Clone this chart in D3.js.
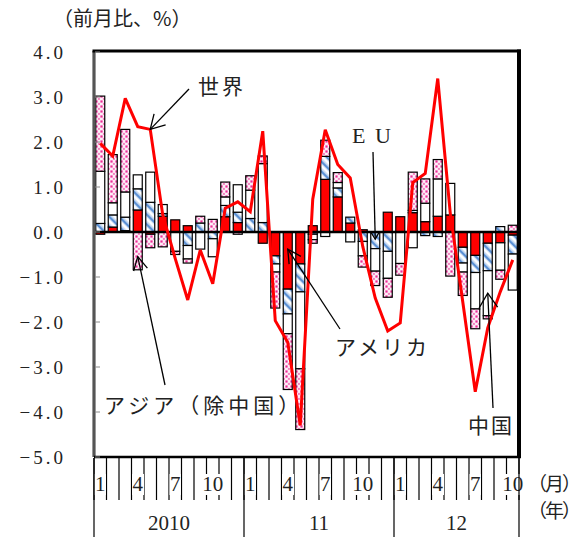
<!DOCTYPE html>
<html>
<head>
<meta charset="utf-8">
<script src="https://cdn.jsdelivr.net/npm/d3@7"></script>
<style>
  html, body { margin: 0; padding: 0; background: #fff; }
  svg { display: block; }
</style>
</head>
<body>
<svg id="chart" width="582" height="537"></svg>
<script>
// Monthly export change (m/m, %), Jan 2010 – Oct 2012
const months = [
  "2010-01","2010-02","2010-03","2010-04","2010-05","2010-06","2010-07","2010-08","2010-09","2010-10","2010-11","2010-12",
  "2011-01","2011-02","2011-03","2011-04","2011-05","2011-06","2011-07","2011-08","2011-09","2011-10","2011-11","2011-12",
  "2012-01","2012-02","2012-03","2012-04","2012-05","2012-06","2012-07","2012-08","2012-09","2012-10"
];
const monthTickLabels = ["1","4","7","10"];
const yearLabels = ["2010", "11", "12"];
const yTicks = [4, 3, 2, 1, 0, -1, -2, -3, -4, -5];

// Contributions by destination (percentage points)
const usa = [-0.05, 0.11, 0.03, 0.49, -0.05, 0.35, 0.27, 0.14, 0.00, 0.00, 0.34, 0.21,
             0.00, -0.25, -0.53, -1.27, -0.71, 0.14, 1.17, 0.78, 0.20, 0.05, 0.00, 0.44,
             0.34, 0.43, 0.23, 0.35, 0.38, -0.34, -0.52, -0.25, -0.24, -0.07];
const eu = [0.19, 0.27, 0.30, 0.47, 0.66, 0.06, 0.00, -0.30, 0.20, -0.15, 0.25, 0.23,
            0.30, 0.21, -0.18, -0.55, -0.62, -0.05, 0.51, 0.20, 0.13, -0.21, -0.37, -0.43,
            0.00, 0.05, -0.08, -0.10, 0.00, -0.35, -0.38, -0.61, 0.12, -0.42];
const china = [1.16, 0.27, 0.56, 0.31, 0.67, 0.20, -0.43, -0.30, -0.38, -0.40, 0.19, 0.61,
               0.63, 1.31, -0.18, -0.44, -1.71, -0.12, -0.10, 0.12, -0.22, -0.32, -0.50, -0.60,
               -0.70, -0.35, 0.41, 0.83, 0.70, -0.20, -0.81, -1.00, -0.61, -0.80];
const asiaExChina = [1.67, 1.07, 1.39, -0.84, -0.30, -0.33, -0.07, -0.09, 0.15, 0.28, 0.33, -0.05,
                     0.32, 0.17, -0.80, -1.24, -1.35, -0.08, 0.36, 0.22, 0.00, -0.25, -0.32, -0.42,
                     -0.26, 0.85, 0.54, 0.43, -0.98, -0.52, -0.44, -0.07, -0.20, 0.15];
// World total (line)
const world = [1.97, 1.69, 2.97, 2.34, 2.28, 0.38, -0.59, -1.51, -0.40, -1.15, 0.53, 0.67,
               0.45, 2.24, -1.97, -2.45, -4.30, 0.73, 2.27, 1.50, 1.20, -0.32, -1.47, -2.20,
               -2.02, 1.10, 1.30, 3.41, 0.42, -1.55, -3.55, -2.13, -1.33, -0.62];

const svg = d3.select("#chart");
const W = 582, H = 537;
const plot = { left: 94, right: 519, top: 52, bottom: 457 };

const x = d3.scaleBand().domain(months).range([plot.left, plot.right])
  .paddingInner(0.28).paddingOuter(0.14);
const y = d3.scaleLinear().domain([-5, 4]).range([plot.bottom, plot.top]);
const cx = m => x(m) + x.bandwidth() / 2;
const step = x.step();

const jp = "'Noto Sans CJK JP', 'Noto Sans', sans-serif";
const serif = "'Liberation Serif', 'DejaVu Serif', serif";

// ---- patterns ----
const defs = svg.append("defs");
const dots = defs.append("pattern").attr("id", "dots")
  .attr("patternUnits", "userSpaceOnUse").attr("width", 5).attr("height", 5);
dots.append("rect").attr("width", 5).attr("height", 5).attr("fill", "#fdeef6");
dots.append("rect").attr("x", 0.4).attr("y", 0.4).attr("width", 2.2).attr("height", 2.2).attr("fill", "#ee2c98");
dots.append("rect").attr("x", 2.9).attr("y", 2.9).attr("width", 2.0).attr("height", 2.0).attr("fill", "#f480c0");

const hatch = defs.append("pattern").attr("id", "hatch")
  .attr("patternUnits", "userSpaceOnUse").attr("width", 7).attr("height", 7)
  .attr("patternTransform", "rotate(-45)");
hatch.append("rect").attr("width", 7).attr("height", 7).attr("fill", "#ffffff");
hatch.append("rect").attr("x", 0).attr("width", 2.2).attr("height", 7).attr("fill", "#5b90d4");
hatch.append("rect").attr("x", 2.2).attr("width", 1.3).attr("height", 7).attr("fill", "#afcaec");
hatch.append("rect").attr("x", 6.0).attr("width", 1.0).attr("height", 7).attr("fill", "#cfdff3");

// ---- stacked bars ----
const rows = months.map((m, i) => ({
  month: m, usa: usa[i], eu: eu[i], china: china[i], asia: asiaExChina[i]
}));
const keys = ["usa", "eu", "china", "asia"];
const fills = { usa: "#ff0000", eu: "url(#hatch)", china: "#ffffff", asia: "url(#dots)" };
const series = d3.stack().keys(keys).offset(d3.stackOffsetDiverging)(rows);

const barsG = svg.append("g");
series.forEach(s => {
  barsG.append("g").selectAll("rect")
    .data(s.filter(d => Math.abs(d[1] - d[0]) > 1e-9))
    .join("rect")
    .attr("x", d => x(d.data.month))
    .attr("width", x.bandwidth())
    .attr("y", d => y(Math.max(d[0], d[1])))
    .attr("height", d => Math.abs(y(d[0]) - y(d[1])))
    .attr("fill", fills[s.key])
    .attr("stroke", "#000")
    .attr("stroke-width", 1.2);
});

// ---- zero line ----
svg.append("line")
  .attr("x1", plot.left).attr("x2", plot.right)
  .attr("y1", y(0)).attr("y2", y(0))
  .attr("stroke", "#000").attr("stroke-width", 2.6);

// ---- world line ----
svg.append("path")
  .datum(world)
  .attr("d", d3.line().x((d, i) => cx(months[i])).y(d => y(d)))
  .attr("fill", "none").attr("stroke", "#ff0000").attr("stroke-width", 3)
  .attr("stroke-linejoin", "miter").attr("stroke-miterlimit", 3);

// ---- frame ----
svg.append("line").attr("x1", plot.left).attr("x2", plot.left)
  .attr("y1", plot.top - 1).attr("y2", plot.bottom).attr("stroke", "#555").attr("stroke-width", 3.2);
svg.append("line").attr("x1", plot.left - 1.5).attr("x2", plot.right + 2)
  .attr("y1", plot.top - 1).attr("y2", plot.top - 1).attr("stroke", "#000").attr("stroke-width", 3.2);
svg.append("line").attr("x1", plot.right).attr("x2", plot.right)
  .attr("y1", plot.top - 2.5).attr("y2", plot.bottom + 1).attr("stroke", "#000").attr("stroke-width", 4);
svg.append("line").attr("x1", plot.left).attr("x2", plot.right + 2)
  .attr("y1", plot.bottom).attr("y2", plot.bottom).attr("stroke", "#000").attr("stroke-width", 2.4);

// ---- y axis ----
const yAxisG = svg.append("g");
yAxisG.selectAll("line").data(yTicks).join("line")
  .attr("x1", plot.left + 1).attr("x2", plot.left + 6)
  .attr("y1", d => y(d)).attr("y2", d => y(d))
  .attr("stroke", "#8a8a8a").attr("stroke-width", 1);
const fmt = d3.format(".1f");
yAxisG.selectAll("text").data(yTicks).join("text")
  .attr("x", 66).attr("y", d => y(d)).attr("dy", "0.36em")
  .attr("text-anchor", "end")
  .attr("font-family", serif).attr("font-size", 19).attr("letter-spacing", 3)
  .attr("fill", "#222")
  .text(d => fmt(d));

// ---- x axis ----
const xAxisG = svg.append("g");
const boundaries = d3.range(months.length + 1).map(k => plot.left + k * step);
xAxisG.selectAll("line.m").data(boundaries).join("line").attr("class", "m")
  .attr("x1", d => d).attr("x2", d => d)
  .attr("y1", plot.bottom + 1).attr("y2", 500)
  .attr("stroke", "#000").attr("stroke-width", 1.2);
const labelled = months.filter(m => monthTickLabels.includes(String(+m.slice(5))));
const mLab = xAxisG.selectAll("g.ml").data(labelled).join("g").attr("class", "ml");
mLab.append("text")
  .attr("x", d => cx(d)).attr("y", 491)
  .attr("text-anchor", "middle")
  .attr("font-family", serif).attr("font-size", 21).attr("fill", "#222")
  .text(d => String(+d.slice(5)));
mLab.each(function () {
  const t = d3.select(this).select("text");
  const b = t.node().getBBox();
  d3.select(this).insert("rect", "text")
    .attr("x", b.x - 0.5).attr("y", b.y + 2).attr("width", b.width + 1).attr("height", b.height - 3)
    .attr("fill", "#fff");
});
// year separators and labels
const yearStarts = [0, 12, 24, months.length];
xAxisG.selectAll("line.yr").data(yearStarts).join("line").attr("class", "yr")
  .attr("x1", k => plot.left + k * step).attr("x2", k => plot.left + k * step)
  .attr("y1", plot.bottom + 1).attr("y2", H)
  .attr("stroke", "#000").attr("stroke-width", 1.2);
xAxisG.selectAll("text.yl").data(yearLabels).join("text").attr("class", "yl")
  .attr("x", (d, i) => plot.left + (yearStarts[i] + yearStarts[i + 1]) / 2 * step)
  .attr("y", 530).attr("text-anchor", "middle")
  .attr("font-family", serif).attr("font-size", 21).attr("fill", "#222")
  .text(d => d);

// unit captions
svg.append("text").attr("x", 53).attr("y", 26)
  .attr("font-family", jp).attr("font-size", 20).attr("fill", "#222")
  .text("（前月比、%）");
svg.append("text").attr("x", 528).attr("y", 491)
  .attr("font-family", jp).attr("font-size", 19).attr("fill", "#222").attr("letter-spacing", -2)
  .text("（月）");
svg.append("text").attr("x", 528).attr("y", 518)
  .attr("font-family", jp).attr("font-size", 19).attr("fill", "#222").attr("letter-spacing", -2)
  .text("（年）");

// ---- annotations ----
const annG = svg.append("g");
function arrow(tail, tip, len, deg) {
  annG.append("line").attr("x1", tail[0]).attr("y1", tail[1]).attr("x2", tip[0]).attr("y2", tip[1])
    .attr("stroke", "#000").attr("stroke-width", 1.3);
  const a = Math.atan2(tail[1] - tip[1], tail[0] - tip[0]);
  const r = deg * Math.PI / 180;
  const p1 = [tip[0] + len * Math.cos(a + r), tip[1] + len * Math.sin(a + r)];
  const p2 = [tip[0] + len * Math.cos(a - r), tip[1] + len * Math.sin(a - r)];
  annG.append("path").attr("d", `M${p1}L${tip}L${p2}`)
    .attr("fill", "none").attr("stroke", "#000").attr("stroke-width", 1.3);
}
function label(txt, px, py, fam, size, spacing) {
  annG.append("text").attr("x", px).attr("y", py)
    .attr("font-family", fam).attr("font-size", size).attr("letter-spacing", spacing || 0)
    .attr("fill", "#222").text(txt);
}

// World
arrow([189, 89], [cx(months[4]), y(world[4])], 16, 30);
label("世界", 198, 94, jp, 21, 3);
// EU
arrow([373, 152], [cx(months[22]), y(eu[22] / 2) - 1], 9, 30);
label("E U", 352, 143, serif, 22, 2);
// USA
arrow([340, 329], [cx(months[15]), y(usa[15] * 0.3)], 15, 28);
label("アメリカ", 335, 355, jp, 21, 3);
// Asia excluding China
arrow([165, 385], [cx(months[3]), y(asiaExChina[3] * 0.65)], 15, 28);
label("アジア（除中国）", 104, 413, jp, 21, 4);
// China
arrow([493, 408], [cx(months[31]), y(usa[31] + eu[31] + china[31] * 0.5)], 17, 33);
label("中国", 468, 433, jp, 21, 2);
</script>
</body>
</html>
